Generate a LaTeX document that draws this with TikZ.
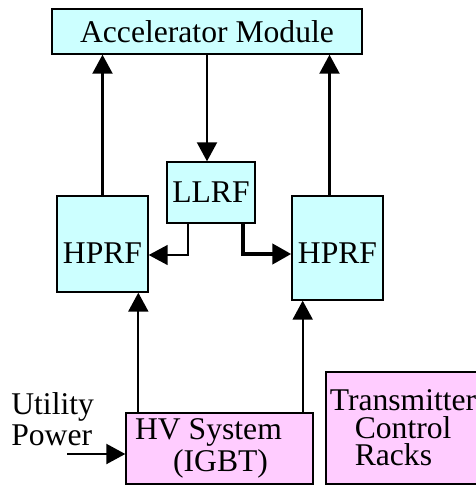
\documentclass[tikz,border=0pt]{standalone}
\usepackage{fontspec}
\setmainfont{Liberation Serif}
\usetikzlibrary{calc,arrows.meta}
\definecolor{boxcyan}{RGB}{204,255,255}
\definecolor{boxpink}{RGB}{255,204,255}

\begin{document}
\begin{tikzpicture}[x=0.02cm, y=-0.02cm,
        font=\fontsize{18}{18}\selectfont,
        cyanbox/.style={draw, line width=0.8pt, fill=boxcyan, inner sep=0pt},
        pinkbox/.style={draw, line width=0.8pt, fill=boxpink, inner sep=0pt},
        arr/.style={-{Triangle[length=0.38cm, width=0.4cm]}, line width=1.2pt}]
        \useasboundingbox (0,0) rectangle (476,487);

        % RF boxes
        \node[cyanbox, minimum width=6.2cm, minimum height=0.9cm] (accel) at (207,31.5) {Accelerator Module};
        \node[cyanbox, minimum width=1.76cm, minimum height=1.22cm] (llrf) at (211,192.5) {LLRF};
        \node[cyanbox, minimum width=1.82cm, minimum height=1.92cm, text height=0.78cm] (hprfL) at (102.5,244) {HPRF};
        \node[cyanbox, minimum width=1.82cm, minimum height=2.08cm, text height=0.62cm] (hprfR) at (337.5,248) {HPRF};

        % power side
        \node[pinkbox, minimum width=3.74cm, minimum height=1.42cm, align=left] (hv) at (219.5,448.5)
            {HV System\hspace*{0.44cm}\\\hspace*{0.76cm}(IGBT)};
        \node[pinkbox, minimum width=3.08cm, minimum height=2.24cm, align=left,
            font=\fontsize{18}{15.6}\selectfont] (tcr) at (403,428)
            {Transmitter\\\hspace*{0.5cm}Control\\\hspace*{0.5cm}Racks};
        \node[anchor=west, align=left, inner sep=0pt] (util) at (11,419) {Utility\\Power};
        \coordinate (pwr) at (67,454);

        % arrows
        \draw[arr] (hprfL.north) -- (hprfL.north |- accel.south);
        \coordinate (r1) at ($(hprfR.north)+(-8,0)$);
        \draw[arr] (r1) -- (r1 |- accel.south);
        \draw[arr] (accel.south) -- (accel.south |- llrf.north);
        \draw[arr, line width=0.8pt] ($(llrf.south)+(-23,0)$) |- ($(hprfL.east)+(0,11)$);
        \draw[arr, line width=2.4pt] ($(llrf.south)+(32,0)$) |- ($(hprfR.west)+(0,6)$);
        \coordinate (h1) at ($(hv.north west)+(13,0)$);
        \coordinate (h2) at ($(hv.north east)+(-11,0)$);
        \draw[arr] (h1) -- (h1 |- hprfL.south);
        \draw[arr] (h2) -- (h2 |- hprfR.south);
        \draw[arr] (pwr) -- (pwr -| hv.west);
\end{tikzpicture}
\end{document}
